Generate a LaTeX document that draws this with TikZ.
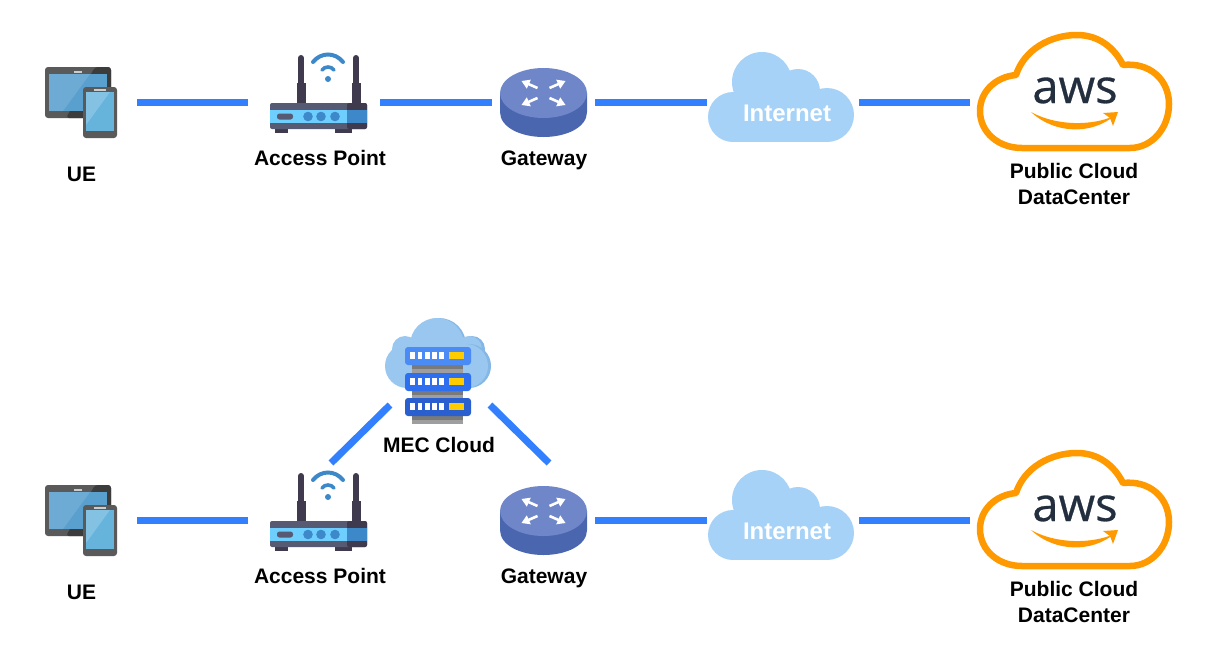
\documentclass[tikz,border=0pt]{standalone}
\usepackage{fontspec}
\setmainfont{Liberation Sans}
\newfontfamily\awsfont[RawFeature={embolden=0.6}]{Open Sans}
\definecolor{linkblue}{HTML}{3380FF}
\definecolor{skyblue}{HTML}{A6D2F8}
\definecolor{awsorange}{HTML}{FF9900}
\definecolor{awsdark}{HTML}{232F3E}
\definecolor{mecblue}{HTML}{99C7F0}
\definecolor{mecshade}{HTML}{84B6E6}
\definecolor{slate}{HTML}{5A5A5A}
\definecolor{slatedark}{HTML}{3C3C3C}
\definecolor{tabscreen}{HTML}{5AA0CF}
\definecolor{phonescreen}{HTML}{66B3DC}
\definecolor{apdark}{HTML}{3F3A4E}
\definecolor{apbody}{HTML}{565A73}
\definecolor{apstrip}{HTML}{6ECFFF}
\definecolor{apblue}{HTML}{3C88C8}
\definecolor{gwtop}{HTML}{6F86C9}
\definecolor{gwside}{HTML}{4A66AE}
\definecolor{slotyellow}{HTML}{FFCC00}
\tikzset{
  link/.style = {draw=linkblue, line width=7pt},
  devlabel/.style = {font=\fontsize{21}{26}\selectfont\bfseries, align=center, inner sep=0pt},
  baselabel/.style = {devlabel, anchor=base},
  netlabel/.style = {font=\fontsize{24}{26}\selectfont\bfseries, text=white, inner sep=0pt, anchor=base},
  awslabel/.style = {font=\fontsize{47}{50}\selectfont\awsfont, text=awsdark, inner sep=0pt, anchor=base},
  hub/.style = {inner sep=0pt, outer sep=0pt, minimum height=40pt},
  ue/.pic = {
    \fill[slate, rounded corners=3pt] (45,67) rectangle (111,118);
    \fill[slatedark, rounded corners=3pt] (66,118) -- (95,67) -- (111,67) -- (111,118) -- cycle;
    \fill[white!80!black] (74,71) rectangle (82,72.5);
    \fill[tabscreen] (49,74) rectangle (107,111);
    \fill[white, opacity=.12] (49,74) -- (90,74) -- (63,111) -- (49,111) -- cycle;
    \fill[slate, rounded corners=3pt] (83,87) rectangle (117,138);
    \fill[white!80!black] (94,88.5) rectangle (106,90.5);
    \fill[phonescreen] (86,92) rectangle (114,131);
    \fill[white, opacity=.2] (86,92) -- (110,92) -- (86,125) -- cycle;
  },
  router/.pic = {
    \foreach \ax in {301,356} {
      \draw[line width=6pt, line cap=round, apdark] (\ax,58) -- (\ax,90);
      \fill[apdark] (\ax-4.5,83) rectangle (\ax+4.5,104);
    }
    \fill[apdark] (275,128) rectangle (288,133);
    \fill[apdark] (335,128) rectangle (352,133);
    \fill[apbody, rounded corners=2pt] (270,103) rectangle (367,129);
    \fill[apdark, rounded corners=2pt] (347,103) rectangle (367,129);
    \fill[apstrip] (270,110) rectangle (347,123);
    \fill[apblue] (347,110) rectangle (367,123);
    \fill[apbody, rounded corners=2.5pt] (277,113.5) rectangle (293,119.5);
    \foreach \dx in {308,321,335} \fill[apblue] (\dx,116.5) circle (4.8);
    \fill[apblue] (328,79) circle (3);
    \draw[apblue, line width=3.6pt, line cap=round] (322,70) .. controls (325,66) and (331,66) .. (334,70);
    \draw[apblue, line width=4pt, line cap=round] (313,62) .. controls (321,52) and (335,52) .. (343,62);
  },
  gateway/.pic = {
    \fill[gwside] (500,93) -- (500,112) .. controls (500,127) and (520,137) .. (543.5,137) .. controls (567,137) and (587,127) .. (587,112) -- (587,93) -- cycle;
    \fill[gwtop] (543.5,93) ellipse[x radius=43.5, y radius=25];
    \foreach \sx/\sy in {1/1,1/-1,-1/1,-1/-1} {
      \begin{scope}[shift={(543.5,93)}, xscale=\sx, yscale=\sy]
        \draw[white, line width=2.6pt] (6,5) -- (16,9.4);
        \fill[white] (22,12) -- (12.7,13.3) -- (16.7,4.3) -- cycle;
      \end{scope}
    }
  },
  bigcloud/.pic = {
    \fill[skyblue] (762,82) circle (30);
    \fill[skyblue] (798,91) circle (22);
    \fill[skyblue] (827,115) circle (27);
    \fill[skyblue] (733,117) circle (25);
    \fill[skyblue] (733,100) rectangle (827,142);
  },
  awscloud/.pic = {
    \draw[awsorange, line width=6.5pt, line join=round]
      (1022,148) .. controls (998,148) and (980,132) .. (980,111)
      .. controls (980,92) and (995,77) .. (1016,75)
      .. controls (1024,50) and (1050,35) .. (1077,35)
      .. controls (1098,35) and (1114,47) .. (1123,65)
      .. controls (1150,62) and (1169,80) .. (1169,104)
      .. controls (1169,128) and (1152,148) .. (1130,148) -- cycle;
    \fill[awsorange] (1031,112) .. controls (1055,134.5) and (1092,134.5) .. (1114,116)
      .. controls (1092,126) and (1056,126) .. (1031,112) -- cycle;
    \fill[awsorange] (1103,113) -- (1118,112) -- (1113,126) -- (1110,118) -- cycle;
  }
}
\begin{document}
\begin{tikzpicture}[x=1pt, y=-1pt]
\useasboundingbox (0,0) rectangle (1208,654);
% drawings of the devices
\foreach \rowy in {0,418} {
  \pic at (0,\rowy) {ue};
  \pic at (0,\rowy) {router};
  \pic at (0,\rowy) {gateway};
  \pic at (0,\rowy) {bigcloud};
  \pic at (0,\rowy) {awscloud};
}
% mec cloud
\fill[mecshade] (439,345) circle (27);
\fill[mecblue] (437,345) circle (27);
\fill[mecshade] (472,349) circle (13);
\fill[mecblue] (469,349) circle (13);
\fill[mecblue] (405,349) circle (13);
\fill[mecblue] (407,366) circle (22);
\fill[mecshade] (469,366) circle (22);
\fill[mecblue] (466,366) circle (22);
\fill[mecblue] (407,350) rectangle (462,388);
\fill[black!38] (412,365) rectangle (463,424);
\foreach \y/\c in {347/4A8BF5,373/2E6FEF,398/2A5FCF} {
  \definecolor{barcolor}{HTML}{\c}
  \fill[black!52] (412,\y+18) rectangle (463,\y+22);
  \fill[barcolor, rounded corners=3pt] (405,\y) rectangle (471,\y+18);
  \foreach \x in {410,417.7,425,432.3,439.3} \fill[white] (\x,\y+5) rectangle (\x+4.7,\y+12);
  \fill[slotyellow] (449,\y+5) rectangle (464,\y+12);
}
% top row
\node[hub, minimum width=112pt] (ue1) at (81,102.5) {};
\node[hub, minimum width=132pt] (ap1) at (314,102.5) {};
\node[hub, minimum width=103pt] (gw1) at (543.5,102.5) {};
\node[hub, minimum width=152pt] (net1) at (783,102.5) {};
\node[hub, minimum width=209pt] (dc1) at (1074.5,102.5) {};
\draw[link] (ue1) -- (ap1);
\draw[link] (ap1) -- (gw1);
\draw[link] (gw1) -- (net1);
\draw[link] (net1) -- (dc1);
\node[baselabel] (ue1label) at (81.5,181) {UE};
\node[baselabel] (ap1label) at (320,165) {Access Point};
\node[baselabel] (gw1label) at (544,165) {Gateway};
\node[netlabel] (net1label) at (787,121) {Internet};
\node[awslabel] (aws1) at (1075,103) {aws};
\node[devlabel] (dc1label) at (1074,184) {Public Cloud\\DataCenter};
% bottom row
\node[hub, minimum width=112pt] (ue2) at (81,520.5) {};
\node[hub, minimum width=132pt] (ap2) at (314,520.5) {};
\node[hub, minimum width=103pt] (gw2) at (543.5,520.5) {};
\node[hub, minimum width=152pt] (net2) at (783,520.5) {};
\node[hub, minimum width=209pt] (dc2) at (1074.5,520.5) {};
\node[hub, minimum width=100pt, minimum height=70pt] (mec) at (440,370) {};
\coordinate (apup) at (331,463);
\coordinate (gwup) at (549,463);
\draw[link] (ue2) -- (ap2);
\draw[link] (gw2) -- (net2);
\draw[link] (net2) -- (dc2);
\draw[link] (mec.south west) -- (apup);
\draw[link] (mec.south east) -- (gwup);
\node[baselabel] (ue2label) at (81.5,599) {UE};
\node[baselabel] (ap2label) at (320,583) {Access Point};
\node[baselabel] (gw2label) at (544,583) {Gateway};
\node[baselabel] (meclabel) at (439,452) {MEC Cloud};
\node[netlabel] (net2label) at (787,539) {Internet};
\node[awslabel] (aws2) at (1075,521) {aws};
\node[devlabel] (dc2label) at (1074,602) {Public Cloud\\DataCenter};
\end{tikzpicture}
\end{document}
